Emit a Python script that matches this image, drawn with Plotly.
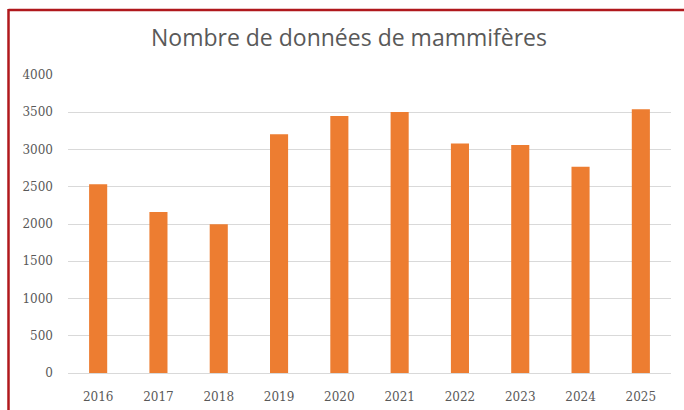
import plotly.graph_objects as go

years = ["2016", "2017", "2018", "2019", "2020", "2021", "2022", "2023", "2024", "2025"]
counts = [2535, 2160, 1995, 3205, 3450, 3505, 3080, 3060, 2770, 3540]
y_ticks = [0, 500, 1000, 1500, 2000, 2500, 3000, 3500, 4000]
title_text = "Nombre de données de mammifères"

W, H = 684, 410
L, R, T, B = 68, 13, 75, 37
pw, ph = W - L - R, H - T - B

def px_to_paper_x(px):
    return (px - L) / pw

def py_to_paper_y(py):
    return (H - B - py) / ph

fig = go.Figure(go.Bar(x=years, y=counts, marker=dict(color="#ED7D31", line=dict(width=0))))

border = "#B0181C"
tickfont = dict(family="DejaVu Serif", size=12, color="#595959")
fig.update_layout(
    width=W, height=H,
    margin=dict(l=L, r=R, t=T, b=B, autoexpand=False),
    paper_bgcolor="white", plot_bgcolor="white",
    bargap=0.7,
    showlegend=False,
    title=dict(text=title_text, x=349 / W, xanchor="center", y=1 - 38 / H, yanchor="middle",
               font=dict(family="Open Sans", size=23, color="#595959")),
    xaxis=dict(showgrid=False, showline=False, ticks="", tickfont=tickfont, ticklabelstandoff=15,
               automargin=False),
    yaxis=dict(range=[0, 4000], tickvals=y_ticks, showgrid=True, gridcolor="#D9D9D9", gridwidth=1,
               zeroline=True, zerolinecolor="#D9D9D9", zerolinewidth=1,
               tickfont=tickfont, ticklabelstandoff=14, automargin=False),
    shapes=[
        dict(type="line", xref="paper", yref="paper", x0=px_to_paper_x(8.5), x1=px_to_paper_x(700),
             y0=py_to_paper_y(10), y1=py_to_paper_y(10), line=dict(color=border, width=2.5)),
        dict(type="line", xref="paper", yref="paper", x0=px_to_paper_x(8.5), x1=px_to_paper_x(8.5),
             y0=py_to_paper_y(9), y1=py_to_paper_y(420), line=dict(color=border, width=2.5)),
    ],
)

fig.write_html("out.html", config={"displayModeBar": False},
               post_script="document.body.style.margin='0';document.body.style.overflow='hidden';")
